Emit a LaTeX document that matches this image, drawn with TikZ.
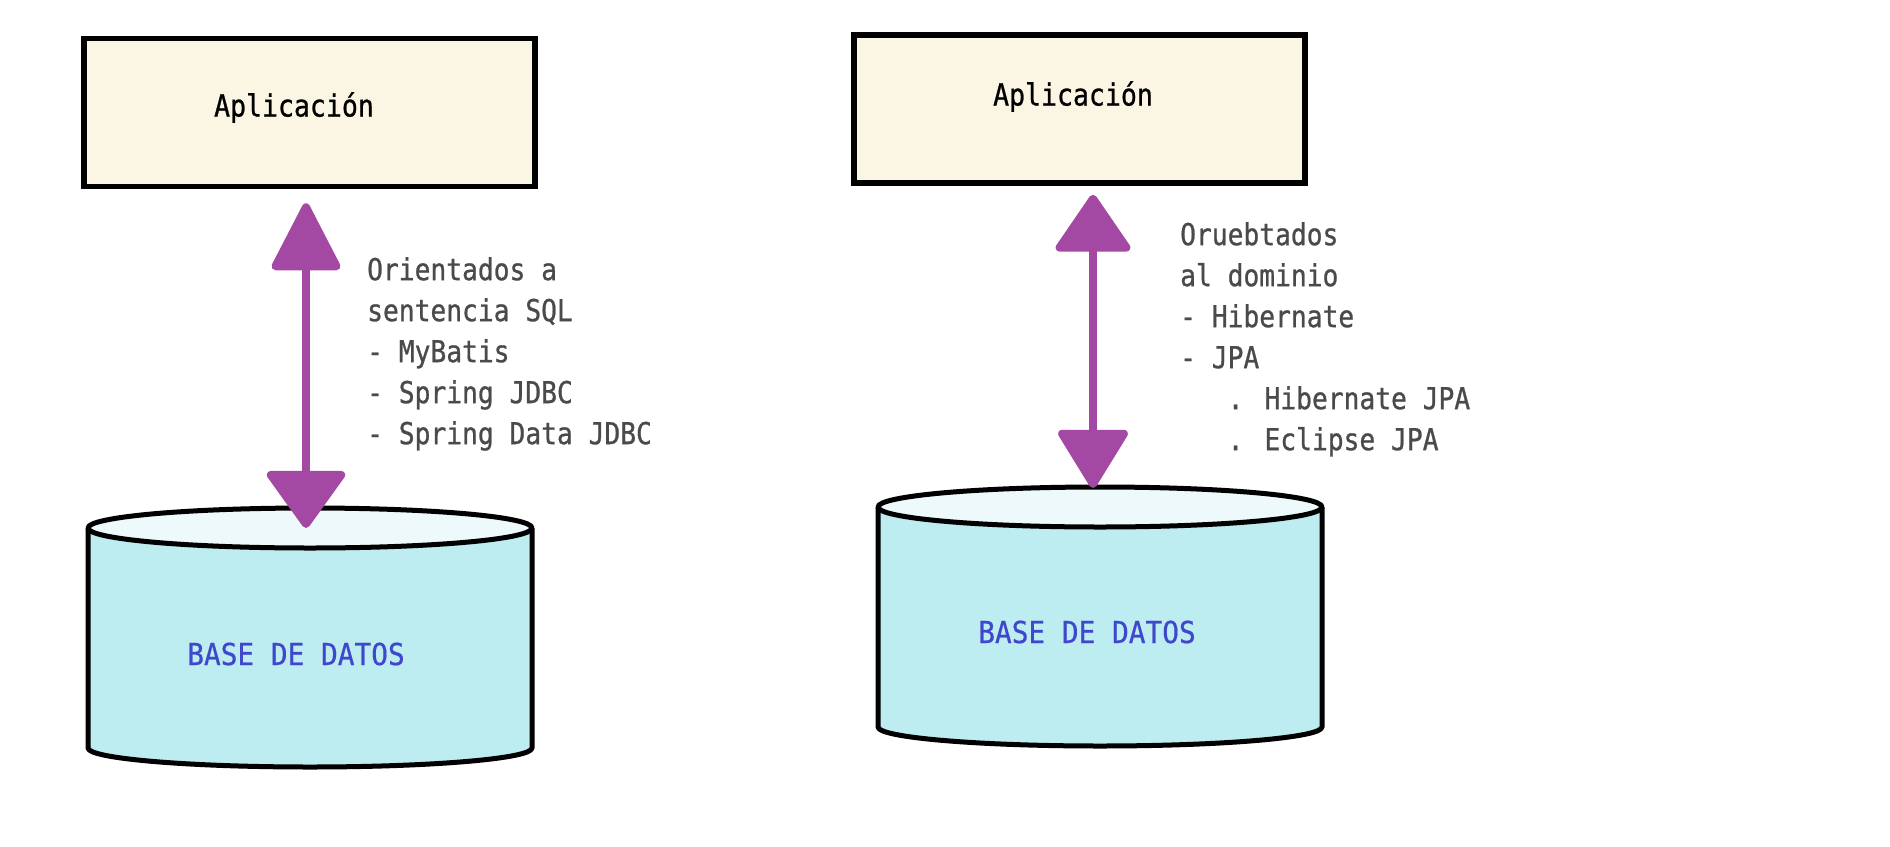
\documentclass[tikz,border=0pt]{standalone}
\usepackage{fontspec}
\usetikzlibrary{arrows.meta,positioning}
\newfontfamily\notefont{DejaVu Sans Mono}[FakeStretch=0.87, FakeBold=0.8]
\newfontfamily\dbfont{DejaVu Sans Mono}[FakeStretch=0.92, FakeBold=0.6]
\definecolor{appfill}{HTML}{FAF6E3}
\definecolor{dbbody}{HTML}{BDECF1}
\definecolor{dbtop}{HTML}{EEF9FB}
\definecolor{linkpurple}{HTML}{A349A4}
\definecolor{dbblue}{HTML}{3F48CC}
\definecolor{notegray}{HTML}{4A4A4A}
\begin{document}
\begin{tikzpicture}[
  x=1pt, y=-1pt,
  app/.style={draw, line width=5.5pt, fill=appfill, minimum width=451pt, minimum height=148pt},
  apptext/.style={font={\notefont\fontsize{30.5}{36}\selectfont}, text=black},
  dbtext/.style={font={\dbfont\fontsize{30.2}{36}\selectfont}, text=dbblue},
  dbline/.style={line width=5pt, line join=round},
  note/.style={font={\notefont\fontsize{30.2}{41}\selectfont}, text=notegray, align=left, anchor=north west, inner sep=0pt},
  link/.style={line width=8pt, draw=linkpurple}
  ]
  \useasboundingbox (0,0) rectangle (1890,846);

  % Boxes
  \node (app1) [app, label={[apptext, xshift=-15.5pt, yshift=5pt]center:Aplicación}] at (309.5,112.5) {};
  \node (app2) [app, label={[apptext, xshift=-6.5pt, yshift=12.5pt]center:Aplicación}] at (1079.5,109) {};

  % Databases
  \fill[dbbody] (88,528) -- (88,748) arc[start angle=180, end angle=0, x radius=222, y radius=19] -- (532,528) -- cycle;
  \draw[dbline] (88,528) -- (88,748) arc[start angle=180, end angle=0, x radius=222, y radius=19] -- (532,528);
  \draw[dbline, fill=dbtop] (310,528) ellipse[x radius=222, y radius=20];
  \node (db1) [dbtext] at (296,654) {BASE DE DATOS};
  \coordinate (db1top) at (306,528);

  \fill[dbbody] (878,507) -- (878,727) arc[start angle=180, end angle=0, x radius=222, y radius=19] -- (1322,507) -- cycle;
  \draw[dbline] (878,507) -- (878,727) arc[start angle=180, end angle=0, x radius=222, y radius=19] -- (1322,507);
  \draw[dbline, fill=dbtop] (1100,507) ellipse[x radius=222, y radius=20];
  \node (db2) [dbtext] at (1087,632) {BASE DE DATOS};
  \coordinate (db2top) at (1093,488);

  % Connections
  \draw[link, {Triangle[width=72pt, length=72pt, round]}-{Triangle[width=84pt, length=60pt, round]}, shorten <=14pt] (app1.south -| db1top) -- (db1top);
  \draw[link, {Triangle[width=80pt, length=60pt, round]}-{Triangle[width=74pt, length=62pt, round]}, shorten <=9pt] (app2.south -| db2top) -- (db2top);

  % Notes
  \node (sqlnote) [note] at (367,257) {Orientados a\\sentencia SQL\\- MyBatis\\- Spring JDBC\\- Spring Data JDBC};
  \node (domnote) [note] at (1180,222) {Oruebtados\\al dominio\\- Hibernate\\- JPA\\\phantom{xxx}. Hibernate JPA\\\phantom{xxx}. Eclipse JPA};
\end{tikzpicture}
\end{document}
